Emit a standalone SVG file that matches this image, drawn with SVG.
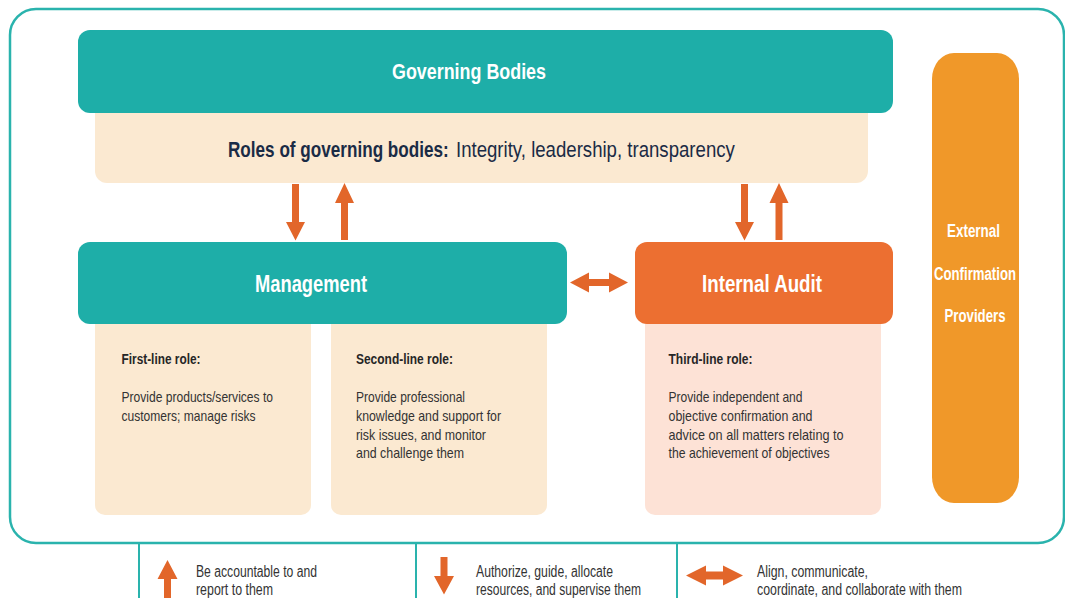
<svg xmlns="http://www.w3.org/2000/svg" width="1065" height="598" viewBox="0 0 1065 598">
<style>
text{font-family:"Liberation Sans",Arial,sans-serif}
.title{font-weight:bold;fill:#ffffff}
.head{font-weight:bold;font-size:14.5px;fill:#262626}
.body{font-size:14.5px;fill:#333333}
.leg{font-size:16px;fill:#333333}
.arrow{fill:#e2662a}
.teal{fill:#1eaea8}
.beige{fill:#fbe9d1}
.vline{stroke:#2ab3ad;stroke-width:2}
</style>
<rect x="10" y="9" width="1054" height="534" rx="26" ry="26" fill="#ffffff" stroke="#2ab3ad" stroke-width="2.5"/>

<g id="governing-bodies">
<rect class="beige" x="95" y="95" width="773" height="88" rx="12"/>
<rect class="teal" x="78" y="30" width="815" height="83" rx="12"/>
<text class="title" x="392" y="79" font-size="22" textLength="154" lengthAdjust="spacingAndGlyphs">Governing Bodies</text>
<text transform="translate(228,157) scale(0.78,1)" x="0" y="0" font-size="22" font-weight="bold" fill="#1a2b45" textLength="283" lengthAdjust="spacingAndGlyphs">Roles of governing bodies:</text>
<text transform="translate(456,157) scale(0.845,1)" x="0" y="0" font-size="22" fill="#1a2b45" textLength="330" lengthAdjust="spacingAndGlyphs">Integrity, leadership, transparency</text>
</g>

<g id="management">
<rect class="beige" x="95" y="300" width="216" height="215" rx="10"/>
<rect class="beige" x="331" y="300" width="216" height="215" rx="10"/>
<rect class="teal" x="78" y="242" width="489" height="82" rx="12"/>
<text class="title" x="255" y="292" font-size="24" textLength="112" lengthAdjust="spacingAndGlyphs">Management</text>
<text class="head" x="121.5" y="364" textLength="79" lengthAdjust="spacingAndGlyphs">First-line role:</text>
<text class="body" x="121.5" y="402" textLength="151.5" lengthAdjust="spacingAndGlyphs">Provide products/services to</text>
<text class="body" x="121.5" y="421" textLength="134" lengthAdjust="spacingAndGlyphs">customers; manage risks</text>
<text class="head" x="356" y="364" textLength="97" lengthAdjust="spacingAndGlyphs">Second-line role:</text>
<text class="body" x="356" y="402" textLength="109" lengthAdjust="spacingAndGlyphs">Provide professional</text>
<text class="body" x="356" y="421" textLength="145" lengthAdjust="spacingAndGlyphs">knowledge and support for</text>
<text class="body" x="356" y="439.5" textLength="130" lengthAdjust="spacingAndGlyphs">risk issues, and monitor</text>
<text class="body" x="356" y="458" textLength="108" lengthAdjust="spacingAndGlyphs">and challenge them</text>
</g>

<g id="internal-audit">
<rect x="645" y="300" width="236" height="215" rx="10" fill="#fde2d6"/>
<rect x="635" y="242" width="258" height="82" rx="12" fill="#ec6f31"/>
<text class="title" x="702" y="292" font-size="24" textLength="120" lengthAdjust="spacingAndGlyphs">Internal Audit</text>
<text class="head" x="668.5" y="364" textLength="84" lengthAdjust="spacingAndGlyphs">Third-line role:</text>
<text class="body" x="668.5" y="402" textLength="134" lengthAdjust="spacingAndGlyphs">Provide independent and</text>
<text class="body" x="668.5" y="421" textLength="144" lengthAdjust="spacingAndGlyphs">objective confirmation and</text>
<text class="body" x="668.5" y="439.5" textLength="175" lengthAdjust="spacingAndGlyphs">advice on all matters relating to</text>
<text class="body" x="668.5" y="458" textLength="161" lengthAdjust="spacingAndGlyphs">the achievement of objectives</text>
</g>

<g id="external-confirmation-providers">
<rect x="932" y="53" width="87" height="450" rx="22" ry="26" fill="#f09829"/>
<text class="title" x="947" y="237" font-size="18" textLength="53" lengthAdjust="spacingAndGlyphs">External</text>
<text class="title" x="934" y="280" font-size="18" textLength="82" lengthAdjust="spacingAndGlyphs">Confirmation</text>
<text class="title" x="944.5" y="322" font-size="18" textLength="61" lengthAdjust="spacingAndGlyphs">Providers</text>
</g>

<g id="connectors">
<polygon class="arrow" points="292,184 299,184 299,222 305,222 295.5,240.5 286,222 292,222"/>
<polygon class="arrow" points="344.5,183 354,203 348,203 348,240 341,240 341,203 335,203"/>
<polygon class="arrow" points="741,184 748,184 748,222 754,222 744.5,240.5 735,222 741,222"/>
<polygon class="arrow" points="779,183 788.5,203 782.5,203 782.5,240 775.5,240 775.5,203 769.5,203"/>
<polygon class="arrow" points="570,282.5 589,272.5 589,279 609,279 609,272.5 628,282.5 609,292.5 609,286 589,286 589,292.5"/>
</g>

<g id="legend">
<line class="vline" x1="139" y1="543" x2="139" y2="598"/>
<line class="vline" x1="416" y1="543" x2="416" y2="598"/>
<line class="vline" x1="677" y1="543" x2="677" y2="598"/>
<polygon class="arrow" points="167.5,560 177.5,579 171,579 171,598 164,598 164,579 157.5,579"/>
<text class="leg" x="196" y="577" textLength="121" lengthAdjust="spacingAndGlyphs">Be accountable to and</text>
<text class="leg" x="196" y="595" textLength="77" lengthAdjust="spacingAndGlyphs">report to them</text>
<polygon class="arrow" points="440.5,557 447.5,557 447.5,576 454,576 444,594.5 434,576 440.5,576"/>
<text class="leg" x="476" y="577" textLength="137" lengthAdjust="spacingAndGlyphs">Authorize, guide, allocate</text>
<text class="leg" x="476" y="595" textLength="165" lengthAdjust="spacingAndGlyphs">resources, and supervise them</text>
<polygon class="arrow" points="686,575.5 706,565.5 706,571.5 723,571.5 723,565.5 743,575.5 723,585.5 723,579.5 706,579.5 706,585.5"/>
<text class="leg" x="757" y="577" textLength="111" lengthAdjust="spacingAndGlyphs">Align, communicate,</text>
<text class="leg" x="757" y="595" textLength="205" lengthAdjust="spacingAndGlyphs">coordinate, and collaborate with them</text>
</g>
</svg>
